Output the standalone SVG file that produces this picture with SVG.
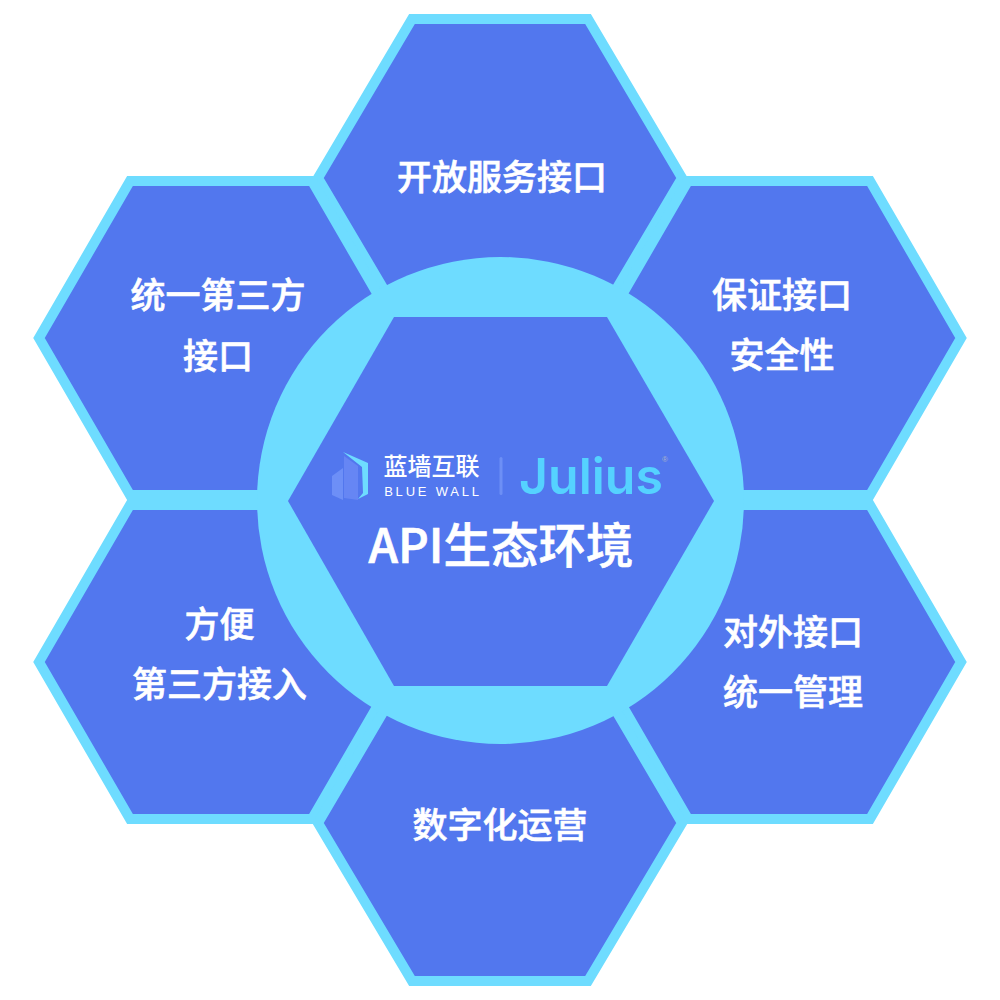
<svg xmlns="http://www.w3.org/2000/svg" width="1000" height="1000" viewBox="0 0 1000 1000">
<style>
.hex{fill:#5277ee;stroke:#6edcff;stroke-width:10;stroke-linejoin:miter}
.t{font-family:"Noto Sans CJK SC","Noto Sans",sans-serif;font-weight:500;font-size:35px;fill:#fff;text-anchor:middle;stroke:#fff;stroke-width:.6px}
</style>
<g id="hex-top"><polygon class="hex" points="412,19 588,19 682,178 588,337 412,337 318,178"/><text class="t" x="502" y="190">开放服务接口</text></g>
<g id="hex-upper-left"><polygon class="hex" points="130,181 312,181 403,338 312,495 130,495 39,338"/><text class="t" x="218" y="308">统一第三方</text><text class="t" x="218" y="369">接口</text></g>
<g id="hex-upper-right"><polygon class="hex" points="688,181 870,181 961,338 870,495 688,495 597,338"/><text class="t" x="782" y="308">保证接口</text><text class="t" x="782" y="368">安全性</text></g>
<g id="hex-lower-left"><polygon class="hex" points="130,505 312,505 403,662 312,819 130,819 39,662"/><text class="t" x="219.500" y="637">方便</text><text class="t" x="219.500" y="697">第三方接入</text></g>
<g id="hex-lower-right"><polygon class="hex" points="688,505 870,505 961,662 870,819 688,819 597,662"/><text class="t" x="793" y="645">对外接口</text><text class="t" x="793" y="705">统一管理</text></g>
<g id="hex-bottom"><polygon class="hex" points="412,663 588,663 682,823 588,981 412,981 318,823"/><text class="t" x="500" y="838">数字化运营</text></g>
<g id="center">
<circle cx="500.500" cy="500.500" r="243.500" fill="#6edcff"/>
<polygon points="394,317 607,317 714,501 607,686 394,686 288,501" fill="#5277ee"/>
<g id="logo">
<polygon points="332,476 343,468 343,500 332,495" fill="#6d8ff7"/>
<polygon points="344,456 358,466 358,500 344,498" fill="#6686f4"/>
<polygon points="343,452 368,463 368,494 358,499 363,493 362,467" fill="#6edcff"/>
<text x="431.500" y="475" font-family="'Noto Sans CJK SC',sans-serif" font-weight="500" font-size="24" fill="#fff" text-anchor="middle">蓝墙互联</text>
<text x="433" y="496" font-family="'Liberation Sans',sans-serif" font-size="13" letter-spacing="2.800" fill="#fff" text-anchor="middle">BLUE WALL</text>
<rect x="499.500" y="457" width="3" height="38" rx="1.500" fill="#6d8ff5"/>
<text x="591" y="494" font-family="Inter,'Liberation Sans',sans-serif" font-weight="600" font-size="50" fill="#55d2ff" text-anchor="middle">Julius</text>
<text x="665" y="462" font-family="'Liberation Sans',sans-serif" font-size="8" fill="#a9b4c8" text-anchor="middle">®</text>
</g>
<text x="501" y="563" font-family="'Noto Sans CJK SC','Noto Sans',sans-serif" font-weight="500" font-size="47.500" fill="#fff" stroke="#fff" stroke-width=".7" text-anchor="middle">API生态环境</text>
</g>
<g id="connectors"/>
</svg>
